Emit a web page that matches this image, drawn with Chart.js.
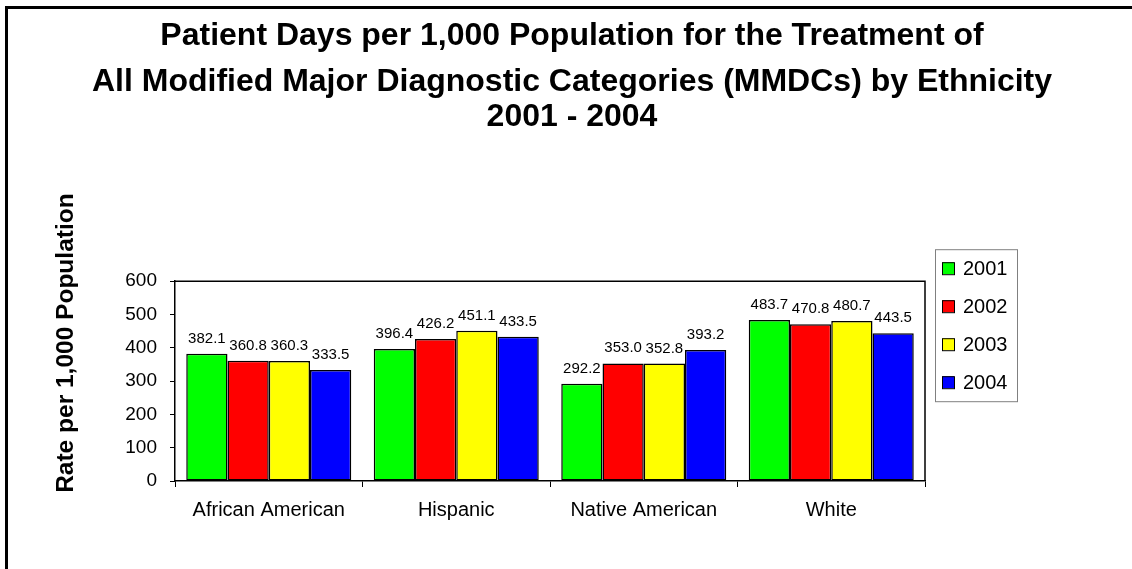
<!DOCTYPE html>
<html>
<head>
<meta charset="utf-8">
<style>
  html, body { margin: 0; padding: 0; background: #fff; }
  #wrap { position: relative; width: 1132px; height: 569px; overflow: hidden; }
  #frame {
    position: absolute; left: 5px; top: 6px; right: 0; bottom: 0;
    border-top: 3px solid #000; border-left: 3px solid #000;
    pointer-events: none;
  }
</style>
<script src="https://cdn.jsdelivr.net/npm/chart.js@4/dist/chart.umd.min.js"></script>
</head>
<body>
<div id="wrap">
  <canvas id="myChart" width="1132" height="569"></canvas>
  <div id="frame"></div>
</div>
<script>
const TITLE_LINES = [
  'Patient Days per 1,000 Population for the Treatment of',
  'All Modified Major Diagnostic Categories (MMDCs) by Ethnicity',
]
const SUBTITLE = '2001 - 2004'
const Y_TITLE = 'Rate per 1,000 Population'

const CATEGORIES = ['African American', 'Hispanic', 'Native American', 'White']
const YEARS = ['2001', '2002', '2003', '2004']
const VALUES_2001 = [382.1, 396.4, 292.2, 483.7]
const VALUES_2002 = [360.8, 426.2, 353.0, 470.8]
const VALUES_2003 = [360.3, 451.1, 352.8, 480.7]
const VALUES_2004 = [333.5, 433.5, 393.2, 443.5]
const Y_TICKS = [0, 100, 200, 300, 400, 500, 600]

const COLORS = ['#00ff00', '#ff0000', '#ffff00', '#0000ff']
const FONT = '"Liberation Sans", Arial, sans-serif'

Chart.defaults.font.family = FONT
Chart.defaults.color = '#000'

// value above every bar
const barValues = {
  id: 'barValues',
  afterDatasetsDraw(chart) {
    const { ctx } = chart
    ctx.save()
    ctx.font = `15px ${FONT}`
    ctx.fillStyle = '#000'
    ctx.textAlign = 'center'
    ctx.textBaseline = 'alphabetic'
    chart.data.datasets.forEach((ds, i) => {
      chart.getDatasetMeta(i).data.forEach((bar, j) => {
        ctx.fillText(ds.data[j].toFixed(1), bar.x, bar.y - 11)
      })
    })
    ctx.restore()
  },
}

// box round the plot area
const plotFrame = {
  id: 'plotFrame',
  afterDraw(chart) {
    const { ctx, chartArea: a } = chart
    ctx.save()
    ctx.strokeStyle = '#000'
    ctx.lineWidth = 1.5
    ctx.beginPath()
    ctx.moveTo(a.left, a.top)
    ctx.lineTo(a.right, a.top)
    ctx.lineTo(a.right, a.bottom)
    ctx.stroke()
    ctx.restore()
  },
}

// y title sits higher than the plot centre in the original
const yTitle = {
  id: 'yTitle',
  afterDraw(chart) {
    const { ctx, chartArea: a } = chart
    ctx.save()
    ctx.translate(66, (a.top + a.bottom) / 2 - 38)
    ctx.rotate(-Math.PI / 2)
    ctx.font = `bold 24.5px ${FONT}`
    ctx.fillStyle = '#000'
    ctx.textAlign = 'center'
    ctx.textBaseline = 'middle'
    ctx.fillText(Y_TITLE, 0, 0)
    ctx.restore()
  },
}

// legend in a grey box to the right of the plot
const boxedLegend = {
  id: 'boxedLegend',
  afterDraw(chart) {
    const { ctx, chartArea: a } = chart
    const left = a.right + 10
    const top = a.top - 32
    const rowGap = 38
    const items = chart.data.datasets
    ctx.save()
    ctx.fillStyle = '#fff'
    ctx.strokeStyle = '#808080'
    ctx.lineWidth = 1
    ctx.fillRect(left, top, 82, items.length * rowGap)
    ctx.strokeRect(left + 0.5, top + 0.5, 82, items.length * rowGap)
    ctx.font = `20px ${FONT}`
    ctx.textBaseline = 'middle'
    ctx.textAlign = 'left'
    items.forEach((ds, i) => {
      const cy = top + 19 + i * rowGap
      ctx.fillStyle = ds.backgroundColor
      ctx.fillRect(left + 7, cy - 6, 12, 12)
      ctx.strokeStyle = '#000'
      ctx.strokeRect(left + 7.5, cy - 5.5, 12, 12)
      ctx.fillStyle = '#000'
      ctx.fillText(ds.label, left + 28, cy + 1)
    })
    ctx.restore()
  },
}

const seriesValues = [VALUES_2001, VALUES_2002, VALUES_2003, VALUES_2004]

const config = {
  type: 'bar',
  data: {
    labels: CATEGORIES,
    datasets: YEARS.map((year, i) => ({
      label: year,
      data: seriesValues[i],
      backgroundColor: COLORS[i],
      borderColor: '#000',
      borderWidth: 1.5,
      borderSkipped: false,
      categoryPercentage: 0.88,
      barPercentage: 1.0,
    })),
  },
  options: {
    responsive: false,
    animation: false,
    devicePixelRatio: 1,
    layout: { padding: { left: 12, right: 0, top: 0, bottom: 36 } },
    plugins: {
      legend: { display: false },
      tooltip: { enabled: false },
      title: {
        display: true,
        text: TITLE_LINES,
        color: '#000',
        font: { size: 32, weight: 'bold', lineHeight: 1.44 },
        padding: { top: 13, bottom: 0 },
      },
      subtitle: {
        display: true,
        text: SUBTITLE,
        color: '#000',
        font: { size: 32, weight: 'bold', lineHeight: 0.72 },
        padding: { top: 0, bottom: 153 },
      },
    },
    scales: {
      x: {
        grid: {
          display: true,
          offset: true,
          drawOnChartArea: false,
          drawTicks: true,
          tickLength: 6,
          color: '#000',
        },
        border: { display: true, color: '#000', width: 1.5 },
        ticks: { font: { size: 20 }, color: '#000', padding: 11 },
      },
      y: {
        min: Y_TICKS[0],
        max: Y_TICKS[Y_TICKS.length - 1],
        grid: {
          display: true,
          drawOnChartArea: false,
          drawTicks: true,
          tickLength: 5,
          color: '#000',
        },
        border: { display: true, color: '#000', width: 1.5 },
        ticks: {
          stepSize: Y_TICKS[1] - Y_TICKS[0],
          font: { size: 19 },
          color: '#000',
          padding: 13,
        },
        afterFit: (scale) => { scale.width = 163 },
      },
      legendSpace: {
        type: 'linear',
        position: 'right',
        display: true,
        grid: { display: false },
        border: { display: false },
        ticks: { display: false },
        afterFit: (scale) => { scale.width = 207 },
      },
    },
  },
  plugins: [barValues, plotFrame, yTitle, boxedLegend],
}

const myChart = new Chart(document.getElementById('myChart'), config)
</script>
</body>
</html>
